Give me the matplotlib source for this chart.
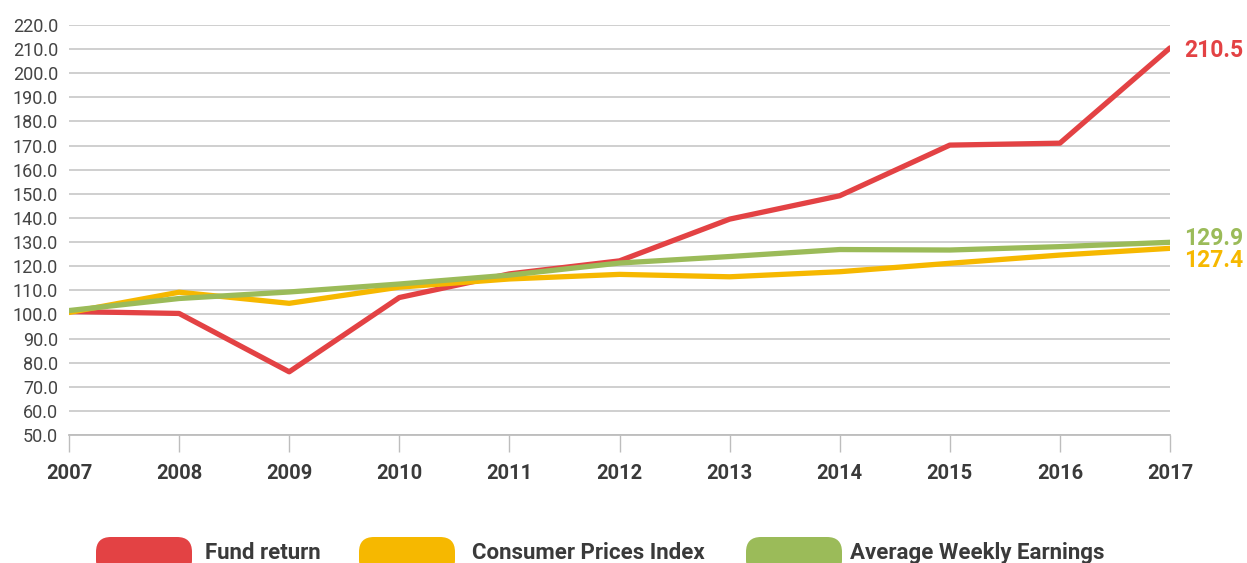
import matplotlib.pyplot as plt
from matplotlib.patches import FancyBboxPatch

plt.rcParams['font.family'] = ['Roboto', 'DejaVu Sans']

years = [2007, 2008, 2009, 2010, 2011, 2012, 2013, 2014, 2015, 2016, 2017]
fund_return = [101.2, 100.4, 76.2, 107.0, 116.8, 122.2, 139.5, 149.2, 170.2, 171.0, 210.5]
cpi = [100.8, 109.2, 104.6, 111.3, 114.7, 116.6, 115.6, 117.7, 121.2, 124.6, 127.4]
awe = [101.6, 106.6, 109.3, 112.6, 116.3, 121.3, 124.0, 126.9, 126.7, 128.1, 129.9]
yticks = [50 + 10 * i for i in range(18)]

RED = '#e34244'
YELLOW = '#f6b800'
GREEN = '#9bbb59'
TXT = '#3a3a3a'

fig = plt.figure(figsize=(12.47, 5.63), dpi=100)
ax = fig.add_axes([69 / 1247, 1 - 435 / 563, (1170 - 69) / 1247, (435 - 25) / 563])

ax.plot(years, fund_return, color=RED, lw=3.8, solid_capstyle='round', zorder=3)
ax.plot(years, cpi, color=YELLOW, lw=3.8, solid_capstyle='round', zorder=4)
ax.plot(years, awe, color=GREEN, lw=3.8, solid_capstyle='round', zorder=5)

ax.set_xlim(2007, 2017)
ax.set_ylim(50, 220)
ax.set_yticks(yticks)
ax.set_yticklabels([f"{v:.1f}" for v in yticks], fontsize=13, color='#444444')
ax.set_xticks(years)
ax.set_xticklabels([str(y) for y in years], fontsize=14.5, fontweight='bold', color=TXT)
ax.tick_params(axis='y', length=0, pad=8)
ax.tick_params(axis='x', length=12, width=1, color='#bdbdbd', pad=9)
ax.grid(axis='y', color='#cccccc', lw=1.3)
ax.set_axisbelow(True)
for s in ['top', 'right', 'left']:
    ax.spines[s].set_visible(False)
ax.spines['bottom'].set_color('#bdbdbd')
ax.spines['bottom'].set_linewidth(1.3)

# end labels
ax.annotate(f"{fund_return[-1]:.1f}", (years[-1], fund_return[-1]), xytext=(10, -2),
            textcoords='offset points', va='center', ha='left', fontsize=16.5,
            fontweight='bold', color=RED, annotation_clip=False)
ax.annotate(f"{awe[-1]:.1f}", (years[-1], awe[-1]), xytext=(10, 3),
            textcoords='offset points', va='center', ha='left', fontsize=16.5,
            fontweight='bold', color=GREEN, annotation_clip=False)
ax.annotate(f"{cpi[-1]:.1f}", (years[-1], cpi[-1]), xytext=(10, -9),
            textcoords='offset points', va='center', ha='left', fontsize=16.5,
            fontweight='bold', color=YELLOW, annotation_clip=False)

# legend along the bottom (cut off by the image edge)
W, H = 1247, 563
legend = [('Fund return', RED, 96, 205),
          ('Consumer Prices Index', YELLOW, 359, 472),
          ('Average Weekly Earnings', GREEN, 746, 850)]
for label, col, x0, tx in legend:
    box = FancyBboxPatch((x0 / W, 1 - 575 / H), 96 / W, 38 / H,
                         boxstyle='round,pad=0,rounding_size=0.012',
                         transform=fig.transFigure, facecolor=col, edgecolor='none',
                         clip_on=False, mutation_aspect=W / H)
    fig.patches.append(box)
    fig.text(tx / W, 1 - 553 / H, label, fontsize=16, fontweight='bold', color=TXT,
             ha='left', va='center')

fig.savefig('out.png', dpi=100)
